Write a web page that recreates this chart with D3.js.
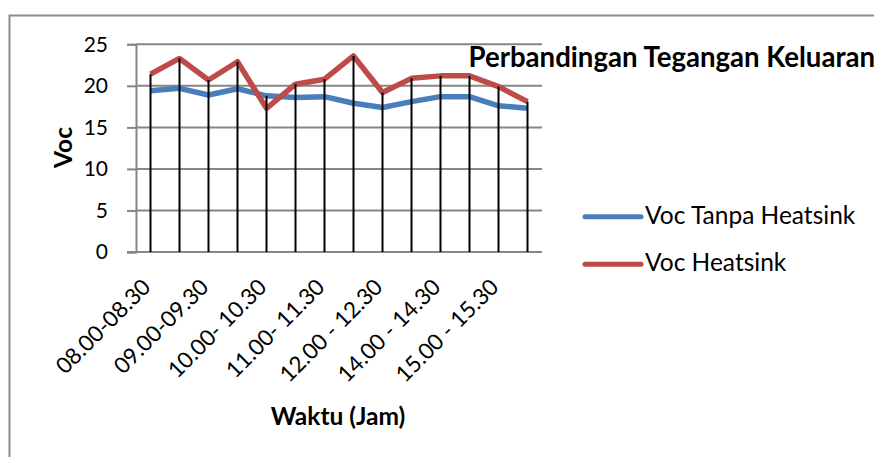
<!DOCTYPE html>
<html>
<head>
<meta charset="utf-8">
<script src="https://cdn.jsdelivr.net/npm/d3@7"></script>
<style>
  body { margin: 0; background: #fff; }
  svg { display: block; font-family: Lato, "Open Sans", sans-serif; }
</style>
</head>
<body>
<svg id="chart" width="874" height="457"></svg>
<script>
const categories = [
  "08.00-08.30", "08.30-09.00", "09.00-09.30", "09.30-10.00",
  "10.00- 10.30", "10.30- 11.00", "11.00- 11.30", "11.30- 12.00",
  "12.00 - 12.30", "12.30 - 13.00", "14.00 - 14.30", "14.30 - 15.00",
  "15.00 - 15.30", "15.30 - 16.00"
];
const vocTanpaHeatsink = [19.4, 19.7, 18.9, 19.65, 18.8, 18.6, 18.7, 17.9, 17.4, 18.1, 18.7, 18.7, 17.6, 17.3];
const vocHeatsink = [21.4, 23.3, 20.7, 22.9, 17.3, 20.2, 20.8, 23.6, 19.2, 20.9, 21.2, 21.2, 19.9, 18.1];
const yTicks = [0, 5, 10, 15, 20, 25];

const series = [
  { name: "Voc Tanpa Heatsink", values: vocTanpaHeatsink, color: "#4a7ebb" },
  { name: "Voc Heatsink", values: vocHeatsink, color: "#be4b48" }
];

const svg = d3.select("#chart");
const plot = { left: 136, right: 542, top: 44.3, bottom: 252 };

const x = d3.scaleBand().domain(categories).range([plot.left, plot.right]);
const y = d3.scaleLinear().domain([0, 25]).range([plot.bottom, plot.top]);
const cx = c => x(c) + x.bandwidth() / 2;

// outer chart frame (cut off on right and bottom)
svg.append("path")
  .attr("d", "M9.5,470V15.5H890")
  .attr("fill", "none")
  .attr("stroke", "#8c8c8c")
  .attr("stroke-width", 2);

// gridlines + y axis
const yAxis = svg.append("g")
  .attr("transform", `translate(${plot.left},0)`)
  .call(d3.axisLeft(y).tickValues(yTicks).tickSize(9).tickPadding(19));
yAxis.select(".domain").attr("stroke", "#868686").attr("stroke-width", 2);
yAxis.selectAll(".tick line").attr("stroke", "#868686").attr("stroke-width", 2);
yAxis.selectAll(".tick text")
  .attr("font-size", 21)
  .attr("fill", "#000")
  .attr("font-family", "Lato, sans-serif");

svg.append("g")
  .selectAll("line")
  .data(yTicks.filter(t => t > 0))
  .join("line")
  .attr("x1", plot.left)
  .attr("x2", plot.right)
  .attr("y1", d => y(d))
  .attr("y2", d => y(d))
  .attr("stroke", "#868686")
  .attr("stroke-width", 2);

// x axis, every other label shown
const xAxis = svg.append("g")
  .attr("transform", `translate(0,${plot.bottom})`)
  .call(d3.axisBottom(x).tickValues(categories.filter((c, i) => i % 2 === 0)).tickSize(0).tickPadding(0));
xAxis.select(".domain").attr("stroke", "#868686").attr("stroke-width", 2)
  .attr("d", `M${plot.left - 9},0H${plot.right}`);
xAxis.selectAll(".tick text")
  .attr("font-size", 22.4)
  .attr("fill", "#000")
  .attr("font-family", "Lato, sans-serif")
  .attr("text-anchor", "end")
  .attr("dy", null)
  .attr("y", null)
  .attr("transform", "translate(1.5,36.5) rotate(-45)");

// series lines
const line = d3.line()
  .x((d, i) => cx(categories[i]))
  .y(d => y(d));

svg.append("g")
  .selectAll("path")
  .data(series)
  .join("path")
  .attr("d", d => line(d.values))
  .attr("fill", "none")
  .attr("stroke", d => d.color)
  .attr("stroke-width", 5.5)
  .attr("stroke-linejoin", "round");

// drop lines from highest value to axis
svg.append("g")
  .selectAll("line")
  .data(categories)
  .join("line")
  .attr("x1", d => cx(d))
  .attr("x2", d => cx(d))
  .attr("y1", (d, i) => y(Math.max(vocTanpaHeatsink[i], vocHeatsink[i])))
  .attr("y2", y(0))
  .attr("stroke", "#000")
  .attr("stroke-width", 2);

// title
svg.append("text")
  .attr("x", 468.5)
  .attr("y", 67)
  .attr("font-size", 27.6)
  .attr("font-weight", "bold")
  .text("Perbandingan Tegangan Keluaran");

// axis titles
svg.append("text")
  .attr("transform", "translate(72,147.5) rotate(-90)")
  .attr("text-anchor", "middle")
  .attr("font-size", 24.5)
  .attr("font-weight", "bold")
  .text("Voc");

svg.append("text")
  .attr("x", 338)
  .attr("y", 425)
  .attr("text-anchor", "middle")
  .attr("font-size", 24.5)
  .attr("font-weight", "bold")
  .text("Waktu (Jam)");

// legend
const legend = svg.append("g")
  .selectAll("g")
  .data(series)
  .join("g")
  .attr("transform", (d, i) => `translate(585,${216.7 + i * 47.5})`);

legend.append("line")
  .attr("x1", 0)
  .attr("x2", 56)
  .attr("stroke", d => d.color)
  .attr("stroke-width", 5)
  .attr("stroke-linecap", "round");

legend.append("text")
  .attr("x", 60)
  .attr("y", 6.8)
  .attr("font-size", 24.5)
  .text(d => d.name);
</script>
</body>
</html>
